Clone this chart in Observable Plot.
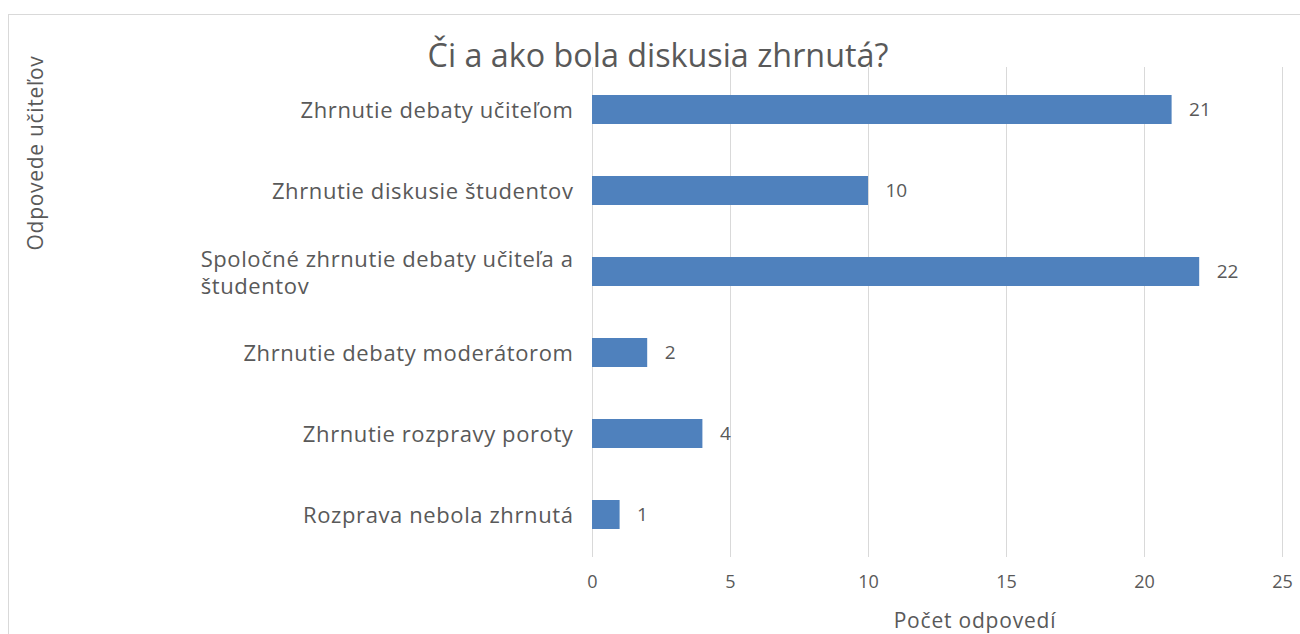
<!DOCTYPE html>
<html>
<head>
<meta charset="utf-8">
<script src="https://cdn.jsdelivr.net/npm/d3@7"></script>
<script src="https://cdn.jsdelivr.net/npm/@observablehq/plot@0.6"></script>
<style>
  html, body { margin: 0; padding: 0; background: #fff; }
  #wrap { position: relative; width: 1300px; height: 634px; overflow: hidden; font-family: "Open Sans", sans-serif; color: #595959; }
  #frame { position: absolute; left: 8px; top: 14px; width: 1400px; height: 700px; border: 1px solid #d9d9d9; box-sizing: border-box; }
  #title { position: absolute; left: 658px; top: 54px; transform: translate(-50%, -50%); font-size: 32.3px; white-space: nowrap; }
  #ytitle { position: absolute; left: 35px; top: 153px; transform: translate(-50%, -50%) rotate(-90deg); font-size: 21px; white-space: nowrap; letter-spacing: 0.7px; }
  #xtitle { position: absolute; left: 975px; top: 620px; transform: translate(-50%, -50%); font-size: 21px; white-space: nowrap; letter-spacing: 0.8px; }
  #chart { position: absolute; left: 0; top: 0; }
</style>
</head>
<body>
<div id="wrap">
  <div id="frame"></div>
  <div id="chart"></div>
  <div id="title"></div>
  <div id="ytitle"></div>
  <div id="xtitle"></div>
</div>
<script>
const titleText = "Či a ako bola diskusia zhrnutá?";
const yTitle = "Odpovede učiteľov";
const xTitle = "Počet odpovedí";
const categories = [
  "Zhrnutie debaty učiteľom",
  "Zhrnutie diskusie študentov",
  "Spoločné zhrnutie debaty učiteľa a študentov",
  "Zhrnutie debaty moderátorom",
  "Zhrnutie rozpravy poroty",
  "Rozprava nebola zhrnutá"
];
const categoryLabels = [
  "Zhrnutie debaty učiteľom",
  "Zhrnutie diskusie študentov",
  "Spoločné zhrnutie debaty učiteľa a\nštudentov",
  "Zhrnutie debaty moderátorom",
  "Zhrnutie rozpravy poroty",
  "Rozprava nebola zhrnutá"
];
const values = [21, 10, 22, 2, 4, 1];
const xTicks = [0, 5, 10, 15, 20, 25];

const data = categories.map((c, i) => ({cat: c, value: values[i]}));
const labelOf = new Map(categories.map((c, i) => [c, categoryLabels[i]]));

document.getElementById("title").textContent = titleText;
document.getElementById("ytitle").textContent = yTitle;
document.getElementById("xtitle").textContent = xTitle;

const chart = Plot.plot({
  width: 1300,
  height: 634,
  marginLeft: 592,
  marginRight: 18,
  marginTop: 67,
  marginBottom: 77,
  style: {fontFamily: "'Open Sans', sans-serif", fontSize: "18px", color: "#595959", background: "transparent"},
  x: {domain: [0, 25]},
  y: {domain: categories, paddingInner: 0.64, paddingOuter: 0.32},
  marks: [
    Plot.gridX(xTicks, {stroke: "#d9d9d9", strokeOpacity: 1, strokeWidth: 1}),
    Plot.barX(data, {x: "value", y: "cat", fill: "#4f81bd"}),
    Plot.text(data, {x: "value", y: "cat", text: d => String(d.value), dx: 17, textAnchor: "start", fill: "#595959", fontSize: 19}),
    Plot.axisX(xTicks, {tickSize: 0, tickPadding: 18, label: null, fontSize: 18, fill: "#595959"}),
    Plot.axisY({tickSize: 0, tickPadding: 19, label: null, fontSize: 22, lineHeight: 1.2, fill: "#595959", tickFormat: d => labelOf.get(d)})
  ]
});
document.getElementById("chart").appendChild(chart);

// slightly wider letter spacing for the category labels
chart.querySelectorAll('g[aria-label="y-axis tick label"]').forEach(g => g.style.letterSpacing = "0.6px");

// left-align the wrapped category label lines, as in the reference
chart.querySelectorAll("text").forEach(t => {
  const spans = t.querySelectorAll("tspan");
  if (spans.length > 1) {
    const bb = t.getBBox();
    t.setAttribute("text-anchor", "start");
    spans.forEach(s => s.setAttribute("x", bb.x));
  }
});
</script>
</body>
</html>
